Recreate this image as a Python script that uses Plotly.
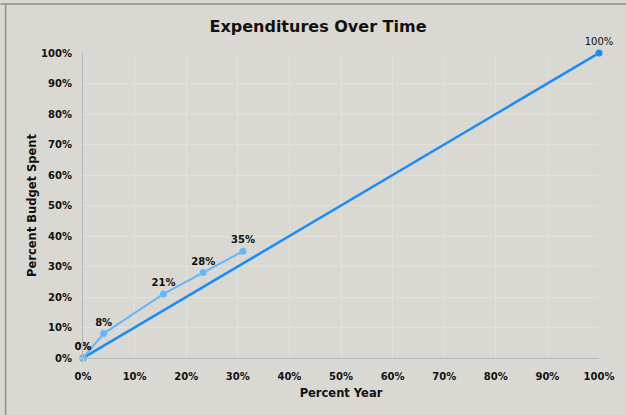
import plotly.graph_objects as go

# Data
actual_x = [0.0, 0.04, 0.156, 0.233, 0.31]
actual_y = [0.0, 0.08, 0.21, 0.28, 0.35]
actual_labels = ["0%", "8%", "21%", "28%", "35%"]

plan_x = [0.0, 1.0]
plan_y = [0.0, 1.0]
plan_labels = ["0%", "100%"]

tick_vals = [0, 0.1, 0.2, 0.3, 0.4, 0.5, 0.6, 0.7, 0.8, 0.9, 1.0]
tick_text = ["0%", "10%", "20%", "30%", "40%", "50%", "60%", "70%", "80%", "90%", "100%"]

FONT = "DejaVu Sans"
BG = "#d9d8d2"

fig = go.Figure()
fig.add_trace(go.Scatter(
    x=plan_x, y=plan_y, mode="lines+markers+text",
    line=dict(color="#1a8cf5", width=2.5),
    marker=dict(color="#1a8cf5", size=7),
    text=plan_labels, textposition="top center",
    textfont=dict(family=FONT, size=10, color="#111"),
    cliponaxis=False, showlegend=False,
))
fig.add_trace(go.Scatter(
    x=actual_x, y=actual_y, mode="lines+markers+text",
    line=dict(color="#66b6fa", width=2),
    marker=dict(color="#66b6fa", size=7),
    text=["<b>%s</b>" % t for t in actual_labels], textposition="top center",
    textfont=dict(family=FONT, size=10, color="#111"),
    cliponaxis=False, showlegend=False,
))

axis_common = dict(
    range=[0, 1], tickvals=tick_vals, ticktext=["<b>%s</b>" % t for t in tick_text],
    showgrid=True, gridcolor="#e2e1dc", gridwidth=1,
    tickfont=dict(family=FONT, size=10, color="#111"),
    zeroline=False, showline=True, linecolor="#b8b8b8", linewidth=1,
    ticks="outside", tickcolor=BG,
)

fig.update_layout(
    width=626, height=415,
    paper_bgcolor=BG, plot_bgcolor=BG,
    margin=dict(l=83, r=21, t=53, b=57),
    title=dict(text="<b>Expenditures Over Time</b>", x=0.508, xanchor="center",
               y=0.937, yanchor="middle",
               font=dict(family=FONT, size=16, color="#111")),
    xaxis=dict(**axis_common, ticklen=9,
               title=dict(text="<b>Percent Year</b>", standoff=7,
                          font=dict(family=FONT, size=11.5, color="#111"))),
    yaxis=dict(**axis_common, ticklen=8,
               title=dict(text="<b>Percent Budget Spent</b>", standoff=2,
                          font=dict(family=FONT, size=11.5, color="#111"))),
    shapes=[
        dict(type="line", xref="paper", yref="paper", x0=-0.16, x1=1.1, y0=1.1607, y1=1.1607,
             line=dict(color="#8f8f86", width=1.5)),
        dict(type="line", xref="paper", yref="paper", x0=-0.150, x1=-0.150, y0=1.1607, y1=-0.19,
             line=dict(color="#8f8f86", width=1.5)),
    ],
)

fig.write_html("out.html")
